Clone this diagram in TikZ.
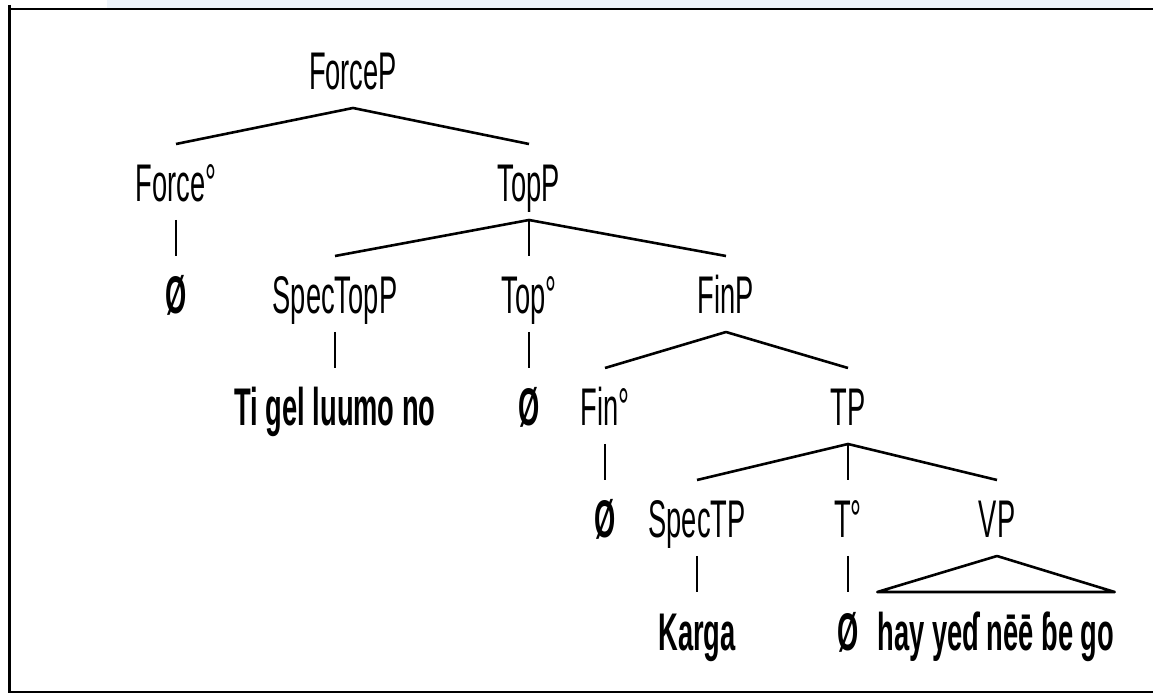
\documentclass[tikz,border=0pt]{standalone}
\usepackage{fontspec}
\setmainfont{Liberation Sans}[FakeStretch=0.515]
\usepackage{tikz}
\definecolor{stripblue}{HTML}{EEF4FA}
\newcommand{\roofover}[2]{
    \draw[branch] (#1.south) -- (#2.north west) -- (#2.north east) -- cycle;
}

\begin{document}
\begin{tikzpicture}[x=0.5pt, y=-0.5pt,
        font=\fontsize{26.5}{30}\selectfont,
        lbl/.style={inner sep=0pt, anchor=base, text height=20pt, text depth=0pt, outer ysep=9pt},
        word/.style={lbl, font=\fontsize{26.5}{30}\selectfont\bfseries},
        branch/.style={line width=1.3pt, line join=round},
        stem/.style={line width=0.8pt}]
        \useasboundingbox (0,0) rectangle (1153,695);
        \fill[stripblue] (107,0) rectangle (1130,8);
        \draw[line width=1.5pt] (9,5) -- (9,693);
        \draw[line width=1.3pt] (9,9) -- (1153,9);
        \draw[line width=1.1pt] (9,692) -- (1153,692);
        % labels, row by row
        \node[lbl] (forcep) at (353,90) {ForceP};
        \node[lbl] (forceh) at (176,202) {Force°};
        \node[lbl] (topp) at (529,202) {TopP};
        \node[word] (nullforce) at (176,314) {Ø};
        \node[lbl] (spectopp) at (335,314) {SpecTopP};
        \node[lbl] (toph) at (529,314) {Top°};
        \node[lbl] (finp) at (726,314) {FinP};
        \node[word] (tigel) at (335,426) {Ti gel luumo no};
        \node[word] (nulltop) at (529,426) {Ø};
        \node[lbl] (finh) at (605,426) {Fin°};
        \node[lbl] (tp) at (848,426) {TP};
        \node[word] (nullfin) at (605,538) {Ø};
        \node[lbl] (spectp) at (697,538) {SpecTP};
        \node[lbl] (th) at (848,538) {T°};
        \node[lbl] (vp) at (997,538) {VP};
        \node[word] (karga) at (697,650) {Karga};
        \node[word] (nullt) at (848,650) {Ø};
        \node[word] (hay) at (996,650) {hay yeɗ nēē ɓe go};
        % branches
        \draw[branch] (forceh.north) -- (forcep.south) -- (topp.north);
        \draw[branch] (spectopp.north) -- (topp.south) -- (finp.north);
        \draw[branch] (finh.north) -- (finp.south) -- (tp.north);
        \draw[branch] (spectp.north) -- (tp.south) -- (vp.north);
        \draw[stem] (topp.south) -- (toph.north);
        \draw[stem] (tp.south) -- (th.north);
        \draw[stem] (forceh.south) -- (nullforce.north);
        \draw[stem] (spectopp.south) -- (tigel.north);
        \draw[stem] (toph.south) -- (nulltop.north);
        \draw[stem] (finh.south) -- (nullfin.north);
        \draw[stem] (spectp.south) -- (karga.north);
        \draw[stem] (th.south) -- (nullt.north);
        \roofover{vp}{hay} % VP drawn as a roof
    \end{tikzpicture}
\end{document}
